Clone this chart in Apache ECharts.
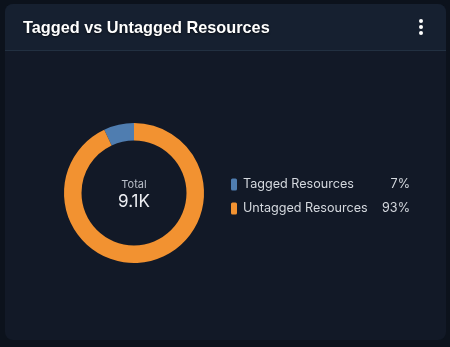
<!DOCTYPE html>
<html><head><meta charset="utf-8">
<script src="https://cdn.jsdelivr.net/npm/echarts@6/dist/echarts.min.js"></script>
<style>html,body{margin:0;padding:0;background:#0c121c;}#c{width:450px;height:347px;}</style>
</head><body><div id="c"></div>
<script>
var categories = ['Tagged Resources', 'Untagged Resources'];
var percentValues = [7, 93];
var totalLabel = '9.1K';
var chartTitle = 'Tagged vs Untagged Resources';
var colors = ['#4f7db0', '#f29231'];

var chart = echarts.init(document.getElementById('c'));
var data = categories.map(function (c, i) { return { name: c, value: percentValues[i] }; });
var font = 'Inter, "Noto Sans", sans-serif';
chart.setOption({
  backgroundColor: '#0c121c',
  color: colors,
  animation: false,
  graphic: [
    { type: 'rect', z: -10, shape: { x: 5, y: 4, width: 441, height: 336, r: 8 }, style: { fill: '#121927' } },
    { type: 'rect', z: -9, shape: { x: 5, y: 4, width: 441, height: 46, r: [8, 8, 0, 0] }, style: { fill: '#162030' } },
    { type: 'rect', z: -8, shape: { x: 5, y: 50, width: 441, height: 1 }, style: { fill: '#223041' } },
    { type: 'circle', shape: { cx: 421, cy: 21, r: 2 }, style: { fill: '#ffffff' } },
    { type: 'circle', shape: { cx: 421, cy: 27, r: 2 }, style: { fill: '#ffffff' } },
    { type: 'circle', shape: { cx: 421, cy: 33, r: 2 }, style: { fill: '#ffffff' } },
    { type: 'text', x: 134, y: 185, style: { text: 'Total', fill: '#b9bfc9', font: '11px ' + font, align: 'center', verticalAlign: 'middle' } },
    { type: 'text', x: 134, y: 202, style: { text: totalLabel, fill: '#eceef2', font: '17px ' + font, align: 'center', verticalAlign: 'middle' } }
  ],
  title: {
    text: chartTitle, left: 18, top: 16,
    textStyle: { color: '#ffffff', fontSize: 16.3, fontWeight: 'bold', fontFamily: 'Liberation Sans, Arial, sans-serif',
      textShadowColor: 'rgba(0,0,0,0.6)', textShadowBlur: 2, textShadowOffsetY: 1 }
  },
  legend: {
    orient: 'vertical', left: 226, top: 173,
    itemWidth: 6, itemHeight: 12, itemGap: 11, icon: 'roundRect',
    data: categories,
    formatter: function (name) {
      var i = categories.indexOf(name);
      return '{n|' + name + '}{p|' + percentValues[i] + '%}';
    },
    textStyle: {
      color: '#d4d8de', fontSize: 12.6, fontFamily: font,
      rich: {
        n: { width: 125, fontSize: 12.6, color: '#d4d8de', fontFamily: font, padding: [0, 0, 0, 1] },
        p: { width: 42, align: 'right', fontSize: 12.6, color: '#d4d8de', fontFamily: font }
      }
    }
  },
  series: [{
    type: 'pie', center: [134, 193], radius: [52.5, 70],
    startAngle: 90, clockwise: false,
    label: { show: false }, labelLine: { show: false },
    itemStyle: { borderWidth: 0 },
    emphasis: { disabled: true },
    data: data
  }]
});
</script></body></html>
